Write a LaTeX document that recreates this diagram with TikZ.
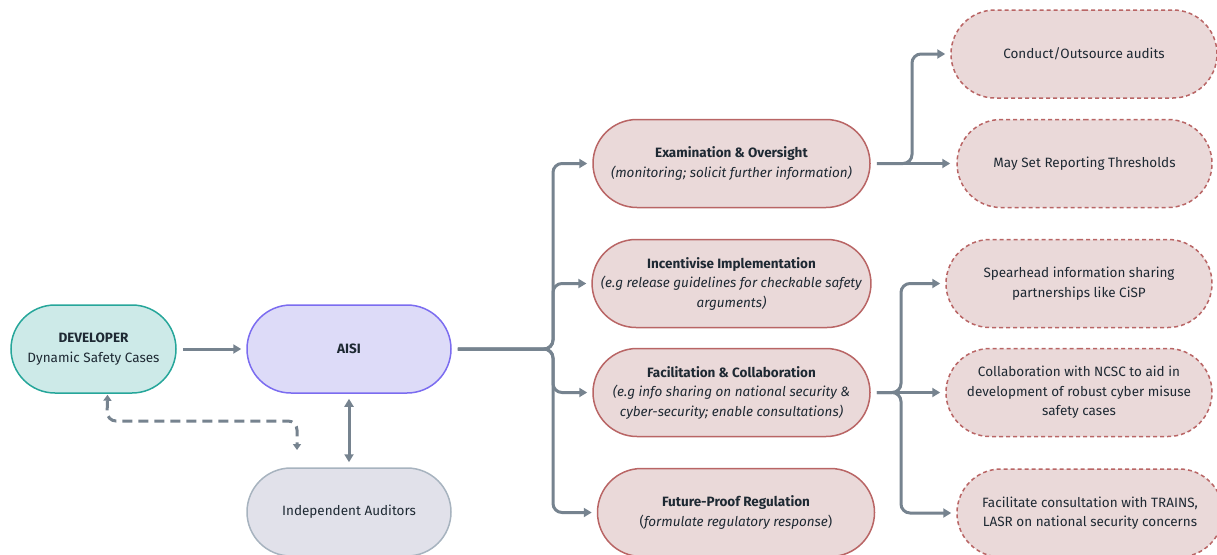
\documentclass[tikz,border=0pt]{standalone}
\usepackage{fontspec}
\setmainfont{Fira Sans}
\usetikzlibrary{shapes.misc,arrows.meta}
\definecolor{tealfill}{HTML}{CDEAE8}
\definecolor{tealline}{HTML}{26A69A}
\definecolor{lavfill}{HTML}{DDDBF8}
\definecolor{lavline}{HTML}{7B6CF0}
\definecolor{greyfill}{HTML}{E1E1EA}
\definecolor{greyline}{HTML}{A7B3BF}
\definecolor{pinkfill}{HTML}{EAD9D9}
\definecolor{pinkline}{HTML}{B96565}
\definecolor{connc}{HTML}{76838F}
\definecolor{txt}{HTML}{1E2933}
\tikzset{
  pill/.style={rounded rectangle, draw, line width=1.5pt, inner sep=0pt, minimum height=88pt, align=center, text=txt,
    font=\fontsize{13.5}{19.5}\selectfont},
  devbox/.style={pill, fill=tealfill, draw=tealline},
  aisibox/.style={pill, fill=lavfill, draw=lavline},
  iabox/.style={pill, fill=greyfill, draw=greyline},
  rolebox/.style={pill, fill=pinkfill, draw=pinkline, minimum width=277pt},
  taskbox/.style={pill, fill=pinkfill, draw=pinkline, dash pattern=on 4pt off 3pt, minimum width=266pt},
  conn/.style={draw=connc, line width=3pt, rounded corners=9pt, -{Triangle[length=8pt,width=9pt]}},
  dconn/.style={draw=connc, line width=3pt, rounded corners=9pt, dash pattern=on 10pt off 6pt,
    {Triangle[length=6pt,width=8pt]}-{Triangle[length=6pt,width=8pt]}},
}
\begin{document}
\begin{tikzpicture}[x=1pt,y=-1pt]
\useasboundingbox (0,0) rectangle (1217,554);
% left
\node[devbox, minimum width=165pt] (dev) at (93.5,349) {\textbf{DEVELOPER}\\Dynamic Safety Cases};
\node[aisibox, minimum width=204pt] (aisi) at (349,349) {\textbf{AISI}};
\node[iabox, minimum width=204pt] (ia) at (349,512) {Independent Auditors};
% middle
\node[rolebox] (exam) at (731.5,163.5) {\textbf{Examination \& Oversight}\\\textit{(monitoring; solicit further information)}};
\node[rolebox] (inc) at (731.5,283.5) {\textbf{Incentivise Implementation}\\\textit{(e.g release guidelines for checkable safety}\\\textit{arguments)}};
\node[rolebox] (fac) at (731.5,392.5) {\textbf{Facilitation \& Collaboration}\\\textit{(e.g info sharing on national security \&}\\\textit{cyber-security; enable consultations)}};
\node[rolebox] (fut) at (736,512.5) {\textbf{Future-Proof Regulation}\\(\textit{formulate regulatory response})};
% right
\node[taskbox] (cond) at (1084,54) {Conduct/Outsource audits};
\node[taskbox, minimum width=255pt] (may) at (1084.5,163.5) {May Set Reporting Thresholds};
\node[taskbox] (spear) at (1079,283.5) {Spearhead information sharing\\partnerships like CiSP};
\node[taskbox] (ncsc) at (1079,392.5) {Collaboration with NCSC to aid in\\development of robust cyber misuse\\safety cases};
\node[taskbox] (facil) at (1090,513) {Facilitate consultation with TRAINS,\\LASR on national security concerns};
% connectors left
\draw[conn] ([xshift=6pt]dev.east) -- ([xshift=-5pt]aisi.west);
\draw[conn, {Triangle[length=8pt,width=9pt]}-{Triangle[length=8pt,width=9pt]}] ([yshift=-5pt]aisi.south) -- ([yshift=5pt]ia.north);
\coordinate (dvs) at ([xshift=14pt,yshift=-1pt]dev.south);
\coordinate (iad) at (297,450);
\draw[dconn] (dvs) -- (107,421) -- (297,421) -- (iad);
% trunk
\coordinate (tj) at (553,349);
\draw[conn] ([xshift=6pt]aisi.east) -- (tj) |- ([xshift=-5pt]exam.west);
\draw[conn] ([xshift=6pt]aisi.east) -- (tj) |- ([xshift=-5pt]inc.west);
\draw[conn] ([xshift=6pt]aisi.east) -- (tj) |- ([xshift=-5pt]fac.west);
\draw[conn] ([xshift=6pt]aisi.east) -- (tj) |- ([xshift=-5pt]fut.west);
% exam branches
\draw[conn] ([xshift=6pt]exam.east) -- ([xshift=-6pt]may.west);
\draw[conn] ([xshift=6pt]exam.east) -- (912,163.5) |- ([xshift=-5pt]cond.west);
% fac branches
\draw[conn] ([xshift=6pt]fac.east) -- ([xshift=-5pt]ncsc.west);
\draw[conn] ([xshift=6pt]fac.east) -- (901,392.5) |- ([xshift=-5pt]spear.west);
\draw[conn] ([xshift=6pt]fac.east) -- (901,392.5) |- ([xshift=-5pt]facil.west);
\end{tikzpicture}
\end{document}
